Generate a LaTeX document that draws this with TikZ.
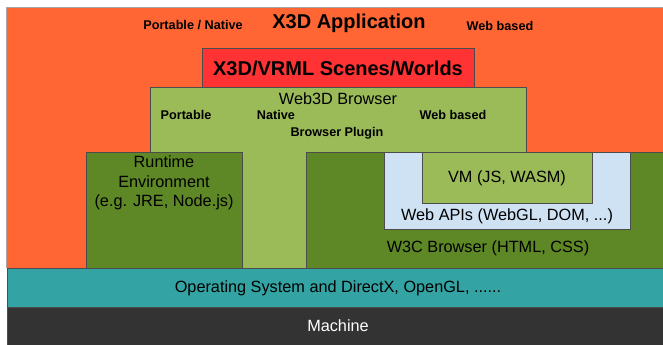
\documentclass[tikz,border=0pt]{standalone}
\usepackage{fontspec}
\setmainfont{Liberation Sans}
\definecolor{appor}{HTML}{FF6633}
\definecolor{scred}{HTML}{FF3333}
\definecolor{lgreen}{HTML}{9BBB59}
\definecolor{dgreen}{HTML}{5E8726}
\definecolor{lblue}{HTML}{CFE2F3}
\definecolor{osteal}{HTML}{33A3A3}
\definecolor{mach}{HTML}{333333}
\tikzset{
  layer/.style={draw=black!70, line width=0.7pt},
  big/.style={font=\fontsize{15}{18}\selectfont\bfseries, inner sep=0pt},
  scene/.style={font=\fontsize{15}{18}\selectfont\bfseries, inner sep=0pt},
  lbl/.style={font=\fontsize{9.5}{11}\selectfont\bfseries, inner sep=0pt},
  txt/.style={font=\fontsize{12.2}{14.5}\selectfont, inner sep=0pt, align=center},
}
\begin{document}
\begin{tikzpicture}[x=0.75pt, y=-0.75pt]
\useasboundingbox (0,0) rectangle (663,344);
\fill[white] (0,0) rectangle (663,344);
% outer application
\fill[black!35] (6,7) rectangle (663,268);
\fill[appor] (7,8) rectangle (663,268);
% scenes
\draw[layer, fill=scred] (202,48) rectangle (474,87);
% web3d browser
\draw[layer, fill=lgreen] (150,87) rectangle (526,268);
% runtime
\draw[layer, fill=dgreen] (86,152) rectangle (242,268);
% w3c browser
\draw[layer, fill=dgreen] (306,152) rectangle (664,268);
% web apis
\draw[layer, fill=lblue] (384,152) rectangle (630,229);
% vm
\draw[layer, fill=lgreen] (422,152) rectangle (592,203);
% os
\draw[layer, fill=osteal] (7,268) rectangle (664,307);
% machine
\draw[layer, fill=mach] (7,307) rectangle (664,345);

\node[big] (app) at (349,23) {X3D Application};
\node[lbl] (pn) at (193,25) {Portable / Native};
\node[lbl] (wb1) at (500,26) {Web based};
\node[scene] (sc) at (338,68) {X3D/VRML Scenes/Worlds};
\node[txt] (w3d) at (338,99) {Web3D Browser};
\node[lbl] (port) at (186,115) {Portable};
\node[lbl] (nat) at (276,115) {Native};
\node[lbl] (wb2) at (453,115) {Web based};
\node[lbl] (plug) at (337,133) {Browser Plugin};
\node[txt] (rt) at (164,183) {Runtime\\Environment\\(e.g. JRE, Node.js)};
\node[txt] (vm) at (507,178) {VM (JS, WASM)};
\node[txt] (api) at (507,216) {Web APIs (WebGL, DOM, ...)};
\node[txt] (w3c) at (488,248) {W3C Browser (HTML, CSS)};
\node[txt] (os) at (338,288) {Operating System and DirectX, OpenGL, ......};
\node[txt, text=white] (m) at (338,326) {Machine};
\end{tikzpicture}
\end{document}
